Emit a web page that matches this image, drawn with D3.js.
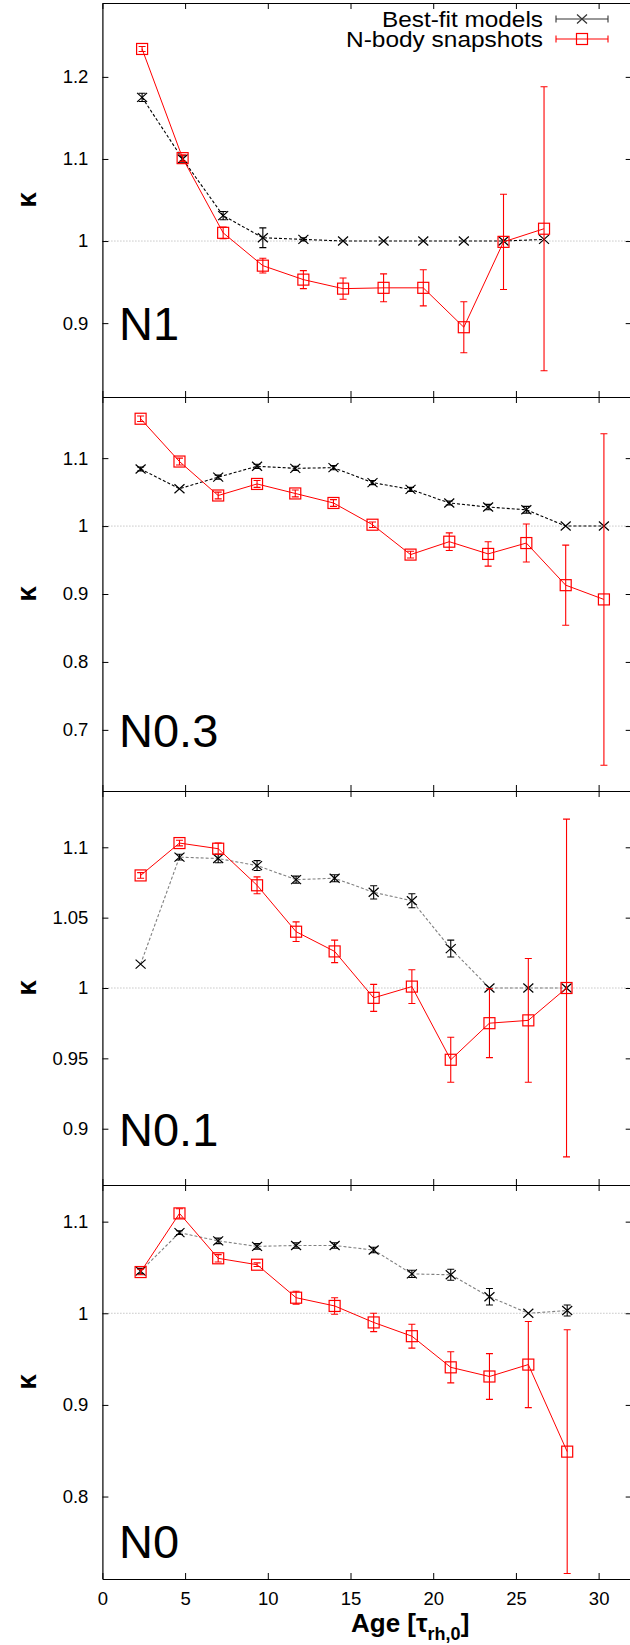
<!DOCTYPE html>
<html>
<head>
<meta charset="utf-8">
<script src="https://cdn.jsdelivr.net/npm/d3@7"></script>
<style>
  body { margin: 0; background: #fff; }
  svg { display: block; }
  text { font-family: "Liberation Sans", Arial, sans-serif; }
</style>
</head>
<body>
<svg id="chart" width="630" height="1645"></svg>
<script>
// Age axis (tau_rh,0) ticks
const xTicks = [0, 5, 10, 15, 20, 25, 30];

// N1
const n1Ages = [2.4, 4.85, 7.3, 9.7, 12.15, 14.55, 17.0, 19.4, 21.85, 24.25, 26.7];
const n1Models = [1.175, 1.100, 1.031, 1.004, 1.002, 1.0, 1.0, 1.0, 1.0, 1.0, 1.002];
const n1ModelErr = [0.005, 0.004, 0.005, 0.012, 0.002, 0, 0, 0, 0, 0, 0];
const n1Snaps = [1.234, 1.101, 1.010, 0.970, 0.953, 0.942, 0.943, 0.943, 0.895, 0.999, 1.015];
const n1SnapErr = [0.003, 0.004, 0.007, 0.009, 0.011, 0.013, 0.017, 0.022, 0.031, 0.058, 0.173];
const n1Ticks = [0.9, 1.0, 1.1, 1.2];

// N0.3
const n03Ages = [2.31, 4.66, 7.0, 9.35, 11.66, 13.97, 16.33, 18.63, 20.97, 23.32, 25.63, 28.01, 30.32];
const n03Models = [1.084, 1.055, 1.072, 1.088, 1.085, 1.086, 1.064, 1.054, 1.034, 1.028, 1.024, 1.0, 1.0];
const n03ModelErr = [0.003, 0, 0.003, 0.003, 0.003, 0.003, 0.003, 0.003, 0.003, 0.004, 0.005, 0, 0];
const n03Snaps = [1.158, 1.095, 1.045, 1.062, 1.048, 1.034, 1.002, 0.958, 0.977, 0.959, 0.975, 0.913, 0.892];
const n03SnapErr = [0.004, 0.005, 0.005, 0.005, 0.005, 0.005, 0.004, 0.005, 0.013, 0.018, 0.028, 0.059, 0.244];
const n03Ticks = [0.7, 0.8, 0.9, 1.0, 1.1];

// N0.1
const n01Ages = [2.31, 4.66, 7.0, 9.35, 11.71, 14.04, 16.4, 18.71, 21.06, 23.4, 25.75, 28.06];
const n01Models = [1.017, 1.093, 1.092, 1.087, 1.077, 1.078, 1.068, 1.062, 1.028, 1.0, 1.0, 1.0];
const n01ModelErr = [0, 0.002, 0.003, 0.0035, 0.0025, 0.0025, 0.0047, 0.005, 0.006, 0, 0, 0];
const n01Snaps = [1.080, 1.103, 1.099, 1.073, 1.040, 1.026, 0.993, 1.001, 0.949, 0.975, 0.977, 1.0];
const n01SnapErr = [0.002, 0.002, 0.004, 0.006, 0.007, 0.008, 0.0096, 0.012, 0.016, 0.0245, 0.044, 0.12];
const n01Ticks = [0.9, 0.95, 1.0, 1.05, 1.1];

// N0
const n0Ages = [2.31, 4.66, 7.0, 9.35, 11.71, 14.04, 16.4, 18.71, 21.06, 23.4, 25.75, 28.1];
const n0Models = [1.046, 1.088, 1.079, 1.073, 1.074, 1.074, 1.069, 1.043, 1.042, 1.018, 1.0, 1.003];
const n0ModelErr = [0.003, 0.002, 0.003, 0.003, 0.003, 0.003, 0.003, 0.004, 0.006, 0.009, 0, 0.006];
const n0Snaps = [1.045, 1.109, 1.060, 1.053, 1.017, 1.008, 0.990, 0.975, 0.941, 0.931, 0.944, 0.849];
const n0SnapErr = [0.003, 0.005, 0.004, 0.002, 0.007, 0.009, 0.010, 0.013, 0.017, 0.025, 0.047, 0.133];
const n0Ticks = [0.8, 0.9, 1.0, 1.1];

const legendLabels = ["Best-fit models", "N-body snapshots"];

const svg = d3.select("#chart");
const left = 102.4;
const x = d3.scaleLinear().domain([0, 32]).range([left, 631.7]);
const tickLen = 6;
const red = "#ff0000";

const panels = [
    { name: "N1", ages: n1Ages, models: n1Models, modelErr: n1ModelErr, snaps: n1Snaps, snapErr: n1SnapErr,
      ticks: n1Ticks, domain: [0.81, 1.29], top: 3, bottom: 397, labelY: 340, modelColor: "#000" },
    { name: "N0.3", ages: n03Ages, models: n03Models, modelErr: n03ModelErr, snaps: n03Snaps, snapErr: n03SnapErr,
      ticks: n03Ticks, domain: [0.61, 1.19], top: 397, bottom: 791, labelY: 747, modelColor: "#000" },
    { name: "N0.1", ages: n01Ages, models: n01Models, modelErr: n01ModelErr, snaps: n01Snaps, snapErr: n01SnapErr,
      ticks: n01Ticks, domain: [0.86, 1.14], top: 791, bottom: 1185, labelY: 1146, modelColor: "#808080" },
    { name: "N0", ages: n0Ages, models: n0Models, modelErr: n0ModelErr, snaps: n0Snaps, snapErr: n0SnapErr,
      ticks: n0Ticks, domain: [0.71, 1.14], top: 1185, bottom: 1579, labelY: 1558, modelColor: "#808080" }
];

function styleAxis(g) {
    g.attr("font-family", null).attr("font-size", null);
    g.selectAll("path.domain").attr("stroke", "#000").attr("stroke-width", 1.2);
    g.selectAll(".tick line").attr("stroke", "#000").attr("stroke-width", 1);
    g.selectAll(".tick text").attr("font-size", 18.5).attr("fill", "#000");
}

function drawErrorBars(g, xs, ys, errs, y, color) {
    xs.forEach((a, i) => {
        if (!errs[i]) return;
        const px = x(a);
        const y0 = y(ys[i] - errs[i]);
        const y1 = y(ys[i] + errs[i]);
        g.append("path")
            .attr("d", `M${px},${y0}V${y1}M${px - 3.5},${y0}H${px + 3.5}M${px - 3.5},${y1}H${px + 3.5}`)
            .attr("stroke", color)
            .attr("stroke-width", 1.1)
            .attr("fill", "none");
    });
}

function drawCross(g, cx, cy, color) {
    g.append("path")
        .attr("d", `M${cx - 5},${cy - 4.5}L${cx + 5},${cy + 4.5}M${cx - 5},${cy + 4.5}L${cx + 5},${cy - 4.5}`)
        .attr("stroke", color)
        .attr("stroke-width", 1.2)
        .attr("fill", "none");
}

function drawSquare(g, cx, cy, color) {
    g.append("rect")
        .attr("x", cx - 5.5)
        .attr("y", cy - 5.5)
        .attr("width", 11)
        .attr("height", 11)
        .attr("fill", "none")
        .attr("stroke", color)
        .attr("stroke-width", 1.2);
}

panels.forEach((p, idx) => {
    const y = d3.scaleLinear().domain(p.domain).range([p.bottom, p.top]);
    const g = svg.append("g").attr("class", "panel");

    // reference line at kappa = 1
    g.append("line")
        .attr("x1", left).attr("x2", 630)
        .attr("y1", y(1)).attr("y2", y(1))
        .attr("stroke", "#aaa")
        .attr("stroke-width", 1)
        .attr("stroke-dasharray", "1,2");

    // axes, ticks pointing inward
    g.append("g").attr("transform", `translate(0,${p.bottom})`)
        .call(d3.axisBottom(x).tickValues(xTicks).tickSizeInner(-tickLen).tickSizeOuter(0)
            .tickPadding(13).tickFormat(idx === panels.length - 1 ? d3.format("d") : ""))
        .call(styleAxis);
    g.append("g").attr("transform", `translate(0,${p.top})`)
        .call(d3.axisTop(x).tickValues(xTicks).tickSizeInner(-tickLen).tickSizeOuter(0).tickFormat(""))
        .call(styleAxis);
    g.append("g").attr("transform", `translate(${left},0)`)
        .call(d3.axisLeft(y).tickValues(p.ticks).tickSizeInner(-tickLen).tickSizeOuter(0)
            .tickPadding(14).tickFormat(d => String(d)))
        .call(styleAxis);
    g.append("g").attr("transform", `translate(${x.range()[1]},0)`)
        .call(d3.axisRight(y).tickValues(p.ticks).tickSizeInner(-tickLen).tickSizeOuter(0).tickFormat(""))
        .call(styleAxis);

    // best-fit models
    const modelPts = p.ages.map((a, i) => [x(a), y(p.models[i])]);
    g.append("path")
        .attr("d", d3.line()(modelPts))
        .attr("fill", "none")
        .attr("stroke", p.modelColor)
        .attr("stroke-width", 1.1)
        .attr("stroke-dasharray", "3,2");
    drawErrorBars(g, p.ages, p.models, p.modelErr, y, "#000");
    modelPts.forEach(pt => drawCross(g, pt[0], pt[1], "#000"));

    // N-body snapshots
    const snapPts = p.ages.map((a, i) => [x(a), y(p.snaps[i])]);
    g.append("path")
        .attr("d", d3.line()(snapPts))
        .attr("fill", "none")
        .attr("stroke", red)
        .attr("stroke-width", 1);
    drawErrorBars(g, p.ages, p.snaps, p.snapErr, y, red);
    snapPts.forEach(pt => drawSquare(g, pt[0], pt[1], red));

    // panel label
    g.append("text")
        .attr("x", 119)
        .attr("y", p.labelY)
        .attr("font-size", 47)
        .attr("fill", "#000")
        .text(p.name);

    // y axis label
    g.append("text")
        .attr("transform", `translate(26,${(p.top + p.bottom) / 2}) rotate(-90)`)
        .attr("text-anchor", "middle")
        .attr("dominant-baseline", "central")
        .attr("font-size", 28)
        .attr("font-weight", "bold")
        .attr("fill", "#000")
        .text("κ");
});

// x axis label
const xLabel = svg.append("text")
    .attr("x", 351)
    .attr("y", 1632)
    .attr("font-size", 26)
    .attr("font-weight", "bold")
    .attr("fill", "#000");
xLabel.append("tspan").text("Age [τ");
xLabel.append("tspan").attr("font-size", 18).attr("dy", 8).text("rh,0");
xLabel.append("tspan").attr("dy", -8).text("]");

// legend
const legendX0 = 556, legendX1 = 608, legendMid = (legendX0 + legendX1) / 2;
const legendRows = [
    { y: 19, color: "#333", marker: drawCross, width: 161 },
    { y: 39, color: red, marker: drawSquare, width: 197 }
];
legendRows.forEach((row, i) => {
    svg.append("text")
        .attr("x", 543)
        .attr("y", row.y + 8)
        .attr("text-anchor", "end")
        .attr("font-size", 22.5)
        .attr("textLength", row.width)
        .attr("lengthAdjust", "spacingAndGlyphs")
        .attr("fill", "#000")
        .text(legendLabels[i]);
    svg.append("path")
        .attr("d", `M${legendX0},${row.y}H${legendX1}M${legendX0},${row.y - 3.5}V${row.y + 3.5}M${legendX1},${row.y - 3.5}V${row.y + 3.5}`)
        .attr("stroke", row.color)
        .attr("stroke-width", 1.1)
        .attr("fill", "none");
    row.marker(svg, legendMid, row.y, row.color);
});
</script>
</body>
</html>
